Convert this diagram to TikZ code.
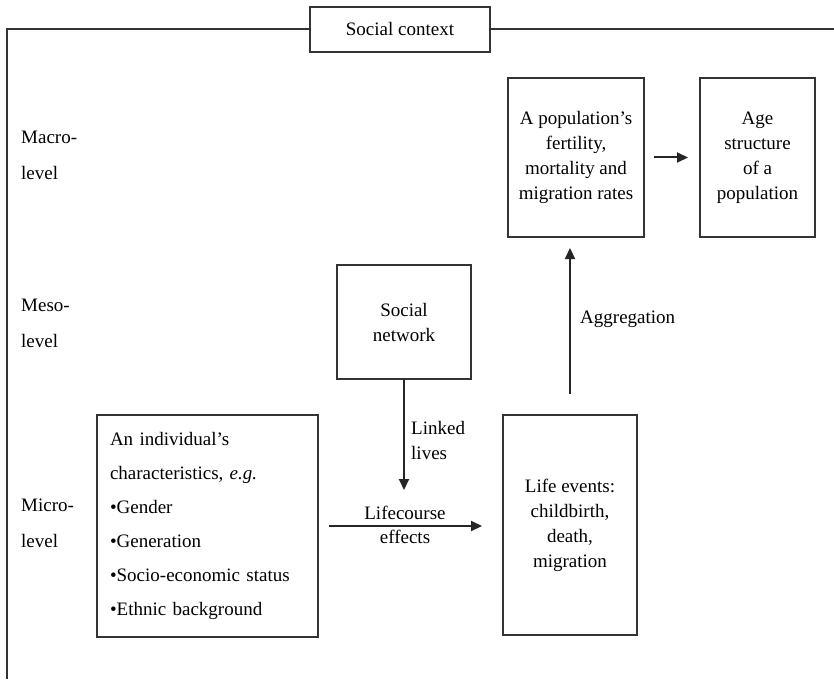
\documentclass[tikz,border=0pt]{standalone}
\usepackage{fontspec}
\setmainfont{Liberation Serif}
\usetikzlibrary{arrows.meta}
\begin{document}
\begin{tikzpicture}[x=1pt,y=-1pt,
  font=\fontsize{19}{25}\selectfont,
  box/.style={draw=black!80, line width=2pt, align=center, inner sep=0pt},
  txt/.style={inner sep=0pt, align=center},
  lvl/.style={inner sep=0pt, align=left, anchor=west, font=\fontsize{19}{36}\selectfont},
  frame/.style={draw=black!80, line width=2pt},
  arr/.style={-{Triangle[length=11pt,width=10pt]}, line width=2pt, draw=black!85}]
\useasboundingbox (0,0) rectangle (834,679);
% social context frame
\node[box, minimum width=180, minimum height=45] (ctx) at (400,29.5) {Social context};
\coordinate (ftl) at (7,29.5);
\coordinate (fbl) at (7,679);
\coordinate (ftr) at (834,29.5);
\draw[frame] (ctx.west) -- (ftl) -- (fbl);
\draw[frame] (ctx.east) -- (ftr);
% level labels
\node[lvl] (macro) at (21,155) {Macro-\\level};
\node[lvl] (meso) at (21,323) {Meso-\\level};
\node[lvl] (micro) at (21,523.5) {Micro-\\level};
% boxes
\node[box, minimum width=136, minimum height=159] (rates) at (576,157.5)
  {A population’s\\fertility,\\mortality and\\migration rates};
\node[box, minimum width=115, minimum height=159] (age) at (757.5,157.5)
  {Age\\structure\\of a\\population};
\node[box, minimum width=134, minimum height=114] (net) at (404,322)
  {Social\\network};
\node[box, minimum width=134, minimum height=220] (events) at (570,525)
  {Life events:\\childbirth,\\death,\\migration};
\node[box, minimum width=221, minimum height=222, align=left, text width=195,
  font=\fontsize{19}{34}\selectfont] (ind) at (207.5,526)
  {An individual’s\\characteristics, \textit{e.g.}\\•Gender\\•Generation\\•Socio-economic status\\•Ethnic background};
% arrows
\draw[arr, shorten <=9pt, shorten >=11pt] (rates.east) -- (age.west);
\draw[arr, shorten <=10pt, shorten >=20pt] (ind.east) -- (ind.east -| events.west);
\coordinate (lltip) at (404,490);
\draw[arr] (net.south) -- (lltip);
\draw[arr, shorten <=20pt, shorten >=10pt] (events.north) -- (events.north |- rates.south);
% labels
\node[txt, anchor=base] (lc) at (405,519) {Lifecourse};
\node[txt, anchor=base] (eff) at (405,543) {effects};
\node[txt, align=left, anchor=west] (ll) at (411,440) {Linked\\lives};
\node[txt, anchor=west] (agg) at (580,319) {Aggregation};
\end{tikzpicture}
\end{document}
